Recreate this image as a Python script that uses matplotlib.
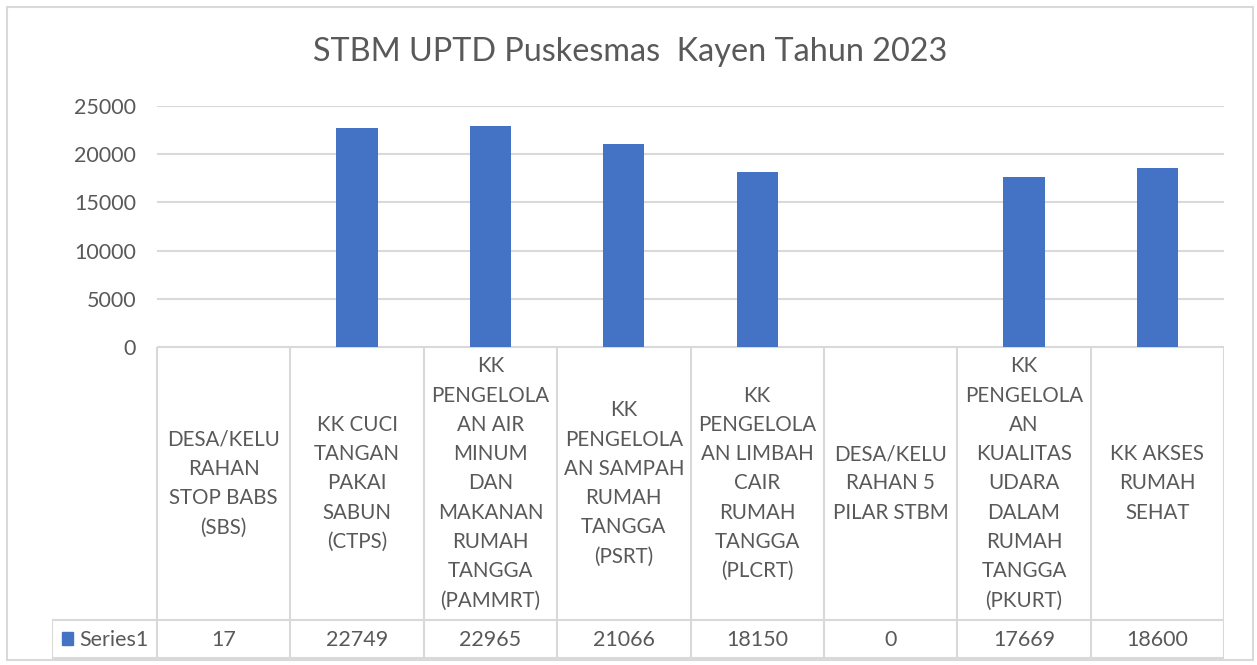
import matplotlib.pyplot as plt
from matplotlib.patches import Rectangle
from matplotlib.lines import Line2D

plt.rcParams['font.family'] = ['Lato', 'DejaVu Sans']

# data
categories = [
    "DESA/KELU\nRAHAN\nSTOP BABS\n(SBS)",
    "KK CUCI\nTANGAN\nPAKAI\nSABUN\n(CTPS)",
    "KK\nPENGELOLA\nAN AIR\nMINUM\nDAN\nMAKANAN\nRUMAH\nTANGGA\n(PAMMRT)",
    "KK\nPENGELOLA\nAN SAMPAH\nRUMAH\nTANGGA\n(PSRT)",
    "KK\nPENGELOLA\nAN LIMBAH\nCAIR\nRUMAH\nTANGGA\n(PLCRT)",
    "DESA/KELU\nRAHAN 5\nPILAR STBM",
    "KK\nPENGELOLA\nAN\nKUALITAS\nUDARA\nDALAM\nRUMAH\nTANGGA\n(PKURT)",
    "KK AKSES\nRUMAH\nSEHAT",
]
values = [17, 22749, 22965, 21066, 18150, 0, 17669, 18600]
series_name = "Series1"
yticks = [0, 5000, 10000, 15000, 20000, 25000]
title = "STBM UPTD Puskesmas  Kayen Tahun 2023"

W, H = 1257, 665
TXT = "#595959"
GRID = "#d9d9d9"
BAR = "#4472C4"

fig = plt.figure(figsize=(W / 100, H / 100), dpi=100)

def px(x0, y0, x1, y1):
    # pixel box -> figure fraction [left, bottom, width, height]
    return [x0 / W, 1 - y1 / H, (x1 - x0) / W, (y1 - y0) / H]

# outer chart border
fig.patches.append(Rectangle((7 / W, 1 - 660 / H), 1246 / W, 653 / H,
                             transform=fig.transFigure, fill=False,
                             edgecolor=GRID, linewidth=1.5))

fig.text(630 / W, 1 - 52 / H, title, ha='center', va='center',
         fontsize=23.3, color=TXT)

# bar area
left, right = 157, 1224
ax = fig.add_axes(px(left, 106, right, 347))
n = len(values)
xs = [i + 0.5 for i in range(n)]
ax.bar(xs, values, width=0.31, color=BAR, zorder=3)
ax.set_xlim(0, n)
ax.set_ylim(0, 25000)
ax.set_yticks(yticks)
ax.set_yticklabels([str(t) for t in yticks], fontsize=15.5, color=TXT)
ax.tick_params(axis='y', length=0, pad=15)
ax.set_xticks([])
ax.grid(axis='y', color=GRID, linewidth=1.5, zorder=0)
for s in ax.spines.values():
    s.set_visible(False)

# data table below, same x scale
unit = (right - left) / n
tleft = 52
tab = fig.add_axes(px(tleft, 347, right, 660))
tab.set_xlim(-(left - tleft) / unit, n)
tab.set_ylim(313, 0)  # pixel rows from top of table
tab.axis('off')
lw = 1.5
row_top, row_mid, row_bot = 0, 273, 311
x0 = tab.get_xlim()[0]
tab.add_line(Line2D([0, n], [row_top, row_top], color=GRID, lw=lw))
tab.add_line(Line2D([x0, n], [row_mid, row_mid], color=GRID, lw=lw))
tab.add_line(Line2D([x0, n], [row_bot, row_bot], color=GRID, lw=lw))
tab.add_line(Line2D([x0, x0], [row_mid, row_bot], color=GRID, lw=lw))
for i in range(n + 1):
    tab.add_line(Line2D([i, i], [row_top, row_bot], color=GRID, lw=lw))

for i, (lab, v) in enumerate(zip(categories, values)):
    tab.text(i + 0.5, (row_top + row_mid) / 2, lab, ha='center', va='center',
             fontsize=14.8, color=TXT, linespacing=1.58)
    tab.text(i + 0.5, (row_mid + row_bot) / 2 + 1, str(v), ha='center', va='center',
             fontsize=15.5, color=TXT)

tab.add_patch(Rectangle((x0 + 10 / unit, 285), 11 / unit, 13, color=BAR))
tab.text(x0 + 27 / unit, (row_mid + row_bot) / 2 + 1, series_name, ha='left', va='center',
         fontsize=15.5, color=TXT)

fig.savefig("out.png", dpi=100)
